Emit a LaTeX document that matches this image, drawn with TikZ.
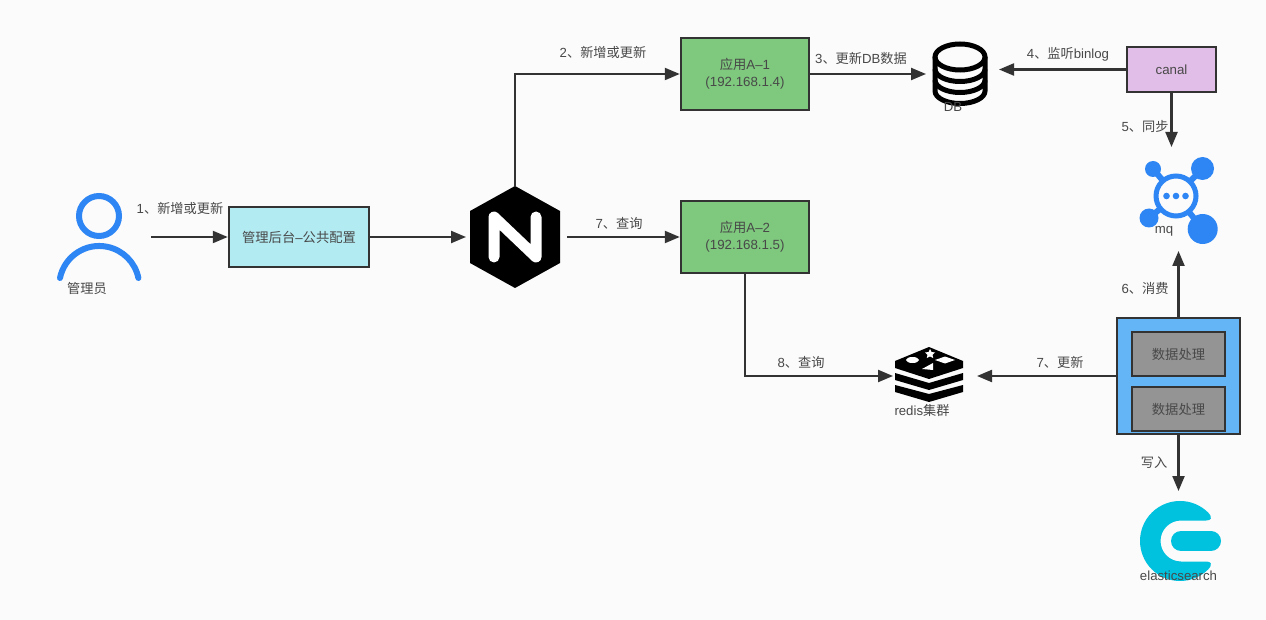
\documentclass[tikz,border=0pt]{standalone}
\usepackage{fontspec}
\setmainfont{Liberation Sans}
\newfontfamily\cjk{Noto Sans CJK SC}
\usetikzlibrary{arrows.meta,shapes.geometric}
\newcommand{\zh}[1]{{\cjk #1}}
\newcommand{\dn}[1]{\raisebox{-2.2pt}{#1}}
\definecolor{bgc}{HTML}{FBFBFB}
\definecolor{ink}{HTML}{333333}
\definecolor{txt}{HTML}{484848}
\definecolor{appg}{HTML}{7FC97F}
\definecolor{adminc}{HTML}{B2EBF2}
\definecolor{canalc}{HTML}{E1BEE7}
\definecolor{procb}{HTML}{64B5F6}
\definecolor{procg}{HTML}{949494}
\definecolor{iconb}{HTML}{2E86F5}
\definecolor{esc}{HTML}{00C1DE}
\tikzset{
  boxed/.style={draw=ink,line width=2.5pt,inner sep=0pt,align=center,text=txt,font=\fontsize{13.3}{17}\selectfont},
  lab/.style={inner sep=0pt,text=txt,yshift=-0.3pt,font=\fontsize{13.2}{16}\selectfont},
  icon/.style={inner sep=0pt,outer sep=0pt},
  conn/.style={draw=ink,line width=2.2pt,-{Triangle[length=15pt,width=12pt]}},
}
\begin{document}
\begin{tikzpicture}[x=1pt,y=-1pt]
\useasboundingbox (0,0) rectangle (1266,620);
\fill[bgc] (0,0) rectangle (1266,620);

% invisible holders for the icons
\node[icon,minimum width=104pt,minimum height=90pt] (person) at (99,237) {};
\node[icon,minimum width=98pt,minimum height=102pt] (nginx) at (515,237) {};
\node[icon,minimum width=73pt,minimum height=68pt] (db) at (962.5,73) {};
\node[icon,minimum width=84pt,minimum height=60pt] (redis) at (935,376) {};
\node[icon,minimum width=90pt,minimum height=104pt] (mq) at (1176,199) {};
\node[icon,minimum width=90pt,minimum height=100pt] (es) at (1179,541) {};

% person
\draw[iconb,line width=6pt] (99,216) circle[radius=20];
\draw[iconb,line width=6pt,line cap=round] (60,278) arc[start angle=191.5,end angle=348.5,radius=40];

% nginx
\fill[black] (515,186) -- (560,211) -- (560,263) -- (515,288) -- (470,263) -- (470,211) -- cycle;
\draw[white,line width=11pt,line cap=round,line join=round] (494,257) -- (494,217) -- (536,257) -- (536,217);

% db
\begin{scope}[black,line width=5pt]
\draw (960,57) ellipse[x radius=25,y radius=13];
\draw (935,57) -- (935,91) arc[start angle=180,end angle=0,x radius=25,y radius=12.5] -- (985,57);
\draw (935,69) arc[start angle=180,end angle=0,x radius=25,y radius=12.5];
\draw (935,80) arc[start angle=180,end angle=0,x radius=25,y radius=12.5];
\end{scope}

% redis
\fill[black] (895,361) -- (929,347) -- (963,361) -- (963,368) -- (929,379) -- (895,368) -- cycle;
\fill[black] (895,373) -- (929,383) -- (963,373) -- (963,380) -- (929,390) -- (895,380) -- cycle;
\fill[black] (895,385) -- (929,394) -- (963,385) -- (963,392) -- (929,402) -- (895,392) -- cycle;
\fill[white] (930,349) -- (931.5,352) -- (935,352.5) -- (932.5,354.8) -- (933.2,358) -- (930,356.4) -- (926.8,358) -- (927.5,354.8) -- (925,352.5) -- (928.5,352) -- cycle;
\fill[white] (912.5,360) ellipse[x radius=6.5,y radius=3];
\fill[white] (945,356.5) -- (955,360) -- (945,363.5) -- (935,360) -- cycle;
\fill[white] (922,369) -- (933,363) -- (933,370) -- cycle;

% mq
\begin{scope}[iconb]
\draw[line width=6pt] (1176,196) -- (1153,169) (1176,196) -- (1202.5,168.5) (1176,196) -- (1149,218) (1176,196) -- (1202.7,229);
\fill[bgc] (1176,196) circle[radius=20];
\draw[line width=5pt] (1176,196) circle[radius=20];
\fill (1153,169) circle[radius=8];
\fill (1202.5,168.5) circle[radius=11.5];
\fill (1149,218) circle[radius=9.5];
\fill (1202.7,229) circle[radius=15];
\fill (1166.5,196) circle[radius=3.3];
\fill (1176,196) circle[radius=3.3];
\fill (1185.5,196) circle[radius=3.3];
\end{scope}

% elasticsearch
\fill[esc] (1208.3,512.7) arc[start angle=315,end angle=45,radius=40]
  .. controls (1213,564) and (1211,561.5) .. (1206,561.5) -- (1181,561.5)
  arc[start angle=90,end angle=270,radius=20.5] -- (1206,520.5)
  .. controls (1211,520.5) and (1213,518) .. cycle;
\draw[esc,line width=20pt,line cap=round] (1181,541) -- (1211,541);

% boxes
\node[boxed,fill=adminc,minimum width=140pt,minimum height=60pt] (admin) at (299,237) {\dn{\zh{管理后台}–\zh{公共配置}}};
\node[boxed,fill=appg,minimum width=128pt,minimum height=72pt] (a1) at (745,74) {\dn{\zh{应用}A–1}\\\dn{(192.168.1.4)}};
\node[boxed,fill=appg,minimum width=128pt,minimum height=72pt] (a2) at (745,237) {\dn{\zh{应用}A–2}\\\dn{(192.168.1.5)}};
\node[boxed,fill=canalc,minimum width=89pt,minimum height=45pt] (canal) at (1171.5,69.5) {\dn{canal}};
\node[boxed,fill=procb,minimum width=123pt,minimum height=116pt] (proc) at (1178.5,376) {};
\node[boxed,fill=procg,minimum width=93pt,minimum height=44pt] (p1) at (1178.5,354) {\dn{\zh{数据处理}}};
\node[boxed,fill=procg,minimum width=93pt,minimum height=44pt] (p2) at (1178.5,409) {\dn{\zh{数据处理}}};

% connectors
\draw[conn] (person.east) -- (admin.west);
\draw[conn] (admin.east) -- (nginx.west);
\draw[conn] (nginx.north) |- (a1.west);
\draw[conn,shorten <=3pt] (nginx.east) -- (a2.west);
\draw[conn] (a1.east) -- (a1.east -| db.west);
\draw[conn] (canal.west) -- (canal.west -| db.east);
\draw[conn] (canal.south) -- (canal.south |- mq.north);
\draw[conn] (proc.north) -- (proc.north |- mq.south);
\draw[conn] (proc.west) -- (redis.east);
\draw[conn] (a2.south) |- (redis.west);
\draw[conn] (proc.south) -- (proc.south |- es.north);

% labels
\node[lab] (lperson) at (87,288) {\zh{管理员}};
\node[lab] (l1) at (180,208) {1\zh{、新增或更新}};
\node[lab] (l2) at (603,52) {2\zh{、新增或更新}};
\node[lab] (l3) at (861,58) {3\zh{、更新}DB\zh{数据}};
\node[lab] (l4) at (1068,54) {4\zh{、监听}binlog};
\node[lab] (l5) at (1145,126) {5\zh{、同步}};
\node[lab] (l6) at (1145,288) {6\zh{、消费}};
\node[lab] (l7a) at (619,223) {7\zh{、查询}};
\node[lab] (l7b) at (1060,362) {7\zh{、更新}};
\node[lab] (l8) at (801,362) {8\zh{、查询}};
\node[lab] (lw) at (1154,462) {\zh{写入}};
\node[lab] (ldb) at (953,107) {DB};
\node[lab] (lmq) at (1164,231) {mq};
\node[lab] (lredis) at (922,410) {redis\zh{集群}};
\node[lab] (les) at (1178.5,575) {elasticsearch};
\end{tikzpicture}
\end{document}
